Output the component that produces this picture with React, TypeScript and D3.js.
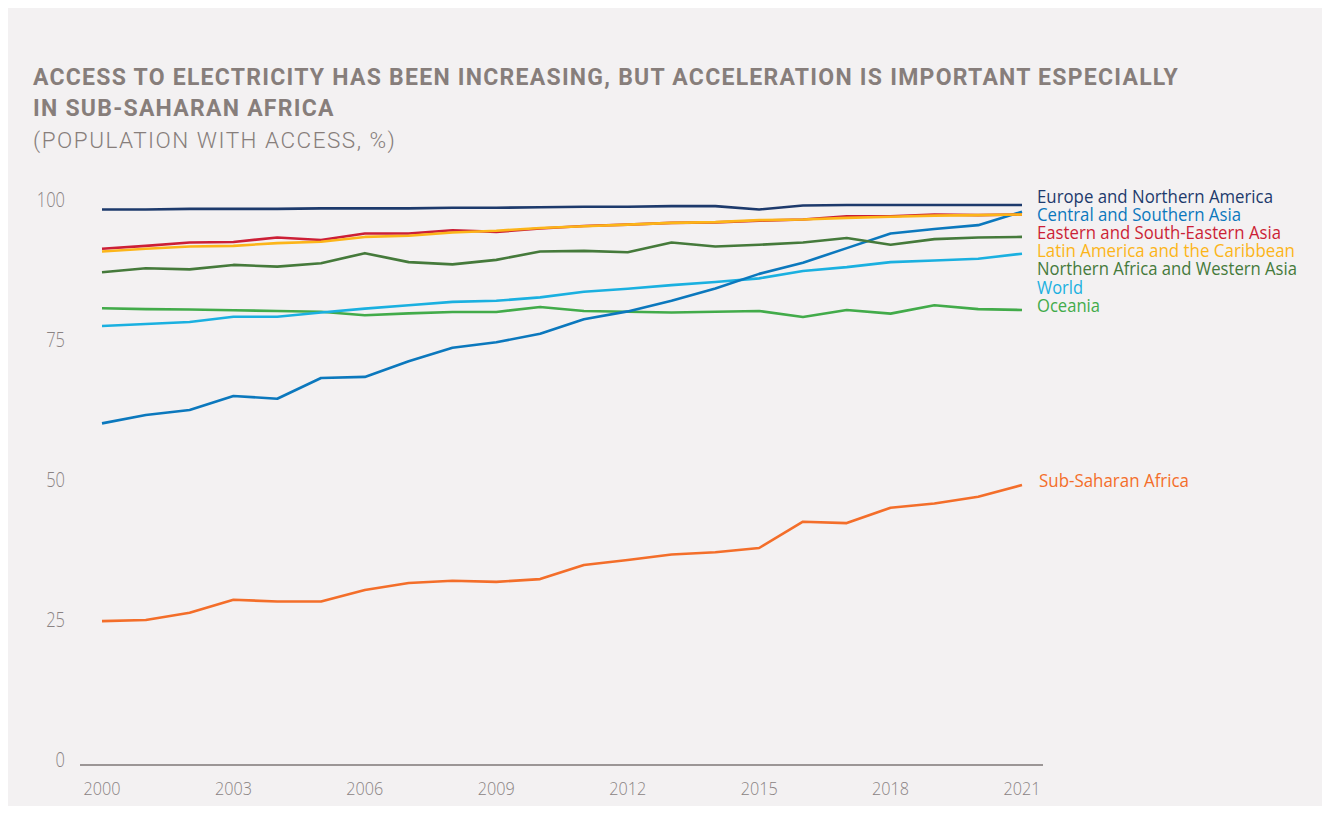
import React from "react";
import * as d3 from "d3";

const years = [2000, 2001, 2002, 2003, 2004, 2005, 2006, 2007, 2008, 2009, 2010, 2011, 2012, 2013, 2014, 2015, 2016, 2017, 2018, 2019, 2020, 2021];

const europeNA = [99.2, 99.2, 99.3, 99.3, 99.3, 99.4, 99.4, 99.4, 99.5, 99.5, 99.6, 99.7, 99.7, 99.8, 99.8, 99.2, 99.9, 100, 100, 100, 100, 100];
const centralSouthAsia = [61.0, 62.5, 63.4, 65.9, 65.4, 69.1, 69.3, 72.1, 74.5, 75.5, 77.0, 79.6, 81.0, 82.9, 85.1, 87.7, 89.7, 92.3, 94.9, 95.7, 96.4, 98.8];
const eastSEAsia = [92.2, 92.7, 93.3, 93.4, 94.2, 93.75, 94.9, 94.9, 95.5, 95.2, 95.8, 96.25, 96.5, 96.8, 96.9, 97.2, 97.4, 98.0, 98.0, 98.3, 98.2, 98.3];
const latinAmerica = [91.7, 92.2, 92.6, 92.7, 93.2, 93.45, 94.3, 94.5, 95.1, 95.4, 95.9, 96.2, 96.5, 96.8, 96.95, 97.3, 97.4, 97.7, 97.9, 98.1, 98.2, 98.3];
const northAfricaWestAsia = [88.0, 88.7, 88.5, 89.3, 89.0, 89.6, 91.4, 89.8, 89.4, 90.2, 91.7, 91.8, 91.55, 93.3, 92.6, 92.9, 93.3, 94.1, 92.9, 93.9, 94.2, 94.3];
const world = [78.4, 78.75, 79.1, 80.05, 80.05, 80.8, 81.5, 82.1, 82.7, 82.9, 83.5, 84.5, 85.05, 85.7, 86.25, 86.9, 88.2, 88.9, 89.8, 90.1, 90.4, 91.3];
const oceania = [81.55, 81.4, 81.35, 81.2, 81.07, 80.95, 80.3, 80.65, 80.9, 80.9, 81.8, 81.07, 80.95, 80.8, 80.95, 81.07, 80.0, 81.25, 80.6, 82.1, 81.4, 81.25];
const subSaharanAfrica = [25.7, 25.9, 27.2, 29.5, 29.2, 29.2, 31.25, 32.5, 32.9, 32.7, 33.2, 35.7, 36.6, 37.6, 38.0, 38.75, 43.45, 43.2, 45.95, 46.7, 47.9, 50.0];

const yTicks = [0, 25, 50, 75, 100];
const xTicks = [2000, 2003, 2006, 2009, 2012, 2015, 2018, 2021];

const titleLines = [
  "ACCESS TO ELECTRICITY HAS BEEN INCREASING, BUT ACCELERATION IS IMPORTANT ESPECIALLY",
  "IN SUB-SAHARAN AFRICA",
];
const subtitle = "(POPULATION WITH ACCESS, %)";

type Series = { name: string; values: number[]; color: string; legendWidth: number };

const legendSeries: Series[] = [
  { name: "Europe and Northern America", values: europeNA, color: "#1d3a6c", legendWidth: 236 },
  { name: "Central and Southern Asia", values: centralSouthAsia, color: "#0b78bd", legendWidth: 204 },
  { name: "Eastern and South-Eastern Asia", values: eastSEAsia, color: "#cc1f36", legendWidth: 244 },
  { name: "Latin America and the Caribbean", values: latinAmerica, color: "#fcb519", legendWidth: 258 },
  { name: "Northern Africa and Western Asia", values: northAfricaWestAsia, color: "#457a3b", legendWidth: 260 },
  { name: "World", values: world, color: "#1ab0e0", legendWidth: 46 },
  { name: "Oceania", values: oceania, color: "#42ab4a", legendWidth: 63 },
];
const ssa: Series = { name: "Sub-Saharan Africa", values: subSaharanAfrica, color: "#f36e2a", legendWidth: 150 };

// draw order (bottom to top)
const drawOrder: Series[] = [ssa, legendSeries[6], legendSeries[5], legendSeries[1], legendSeries[4], legendSeries[2], legendSeries[3], legendSeries[0]];

const W = 1330;
const H = 814;

export default function App() {
  const x = d3.scaleLinear().domain([2000, 2021]).range([102, 1022]);
  const y = d3.scaleLinear().domain([0, 100]).range([765, 205]);
  const line = d3
    .line<number>()
    .x((_, i) => x(years[i]))
    .y((d) => y(d));

  const textGray = "#877e7b";
  const axisGray = "#8a8383";
  const lightFont = "'Open Sans', sans-serif";

  return (
    <svg
      width={W}
      height={H}
      style={{ position: "absolute", left: 0, top: 0, background: "#ffffff" }}
    >
      <rect x={8} y={8} width={W - 16} height={H - 16} fill="#f3f1f2" />

      {titleLines.map((t, i) => (
        <text
          key={t}
          x={33}
          y={85 + i * 31}
          fill={textGray}
          style={{ fontFamily: "Roboto, sans-serif", fontWeight: 700, fontSize: 23, letterSpacing: 1.25 }}
        >
          {t}
        </text>
      ))}
      <text
        x={33}
        y={148}
        fill={textGray}
        style={{ fontFamily: "Roboto, sans-serif", fontWeight: 300, fontSize: 22.5, letterSpacing: 1.5 }}
      >
        {subtitle}
      </text>

      {/* y-axis labels */}
      {yTicks.map((t) => (
        <text
          key={t}
          x={65}
          y={y(t) + 2}
          textAnchor="end"
          fill={axisGray}
          textLength={String(t).length * 9.4}
          lengthAdjust="spacingAndGlyphs"
          style={{ fontFamily: lightFont, fontWeight: 300, fontSize: 21 }}
        >
          {t}
        </text>
      ))}

      {/* x axis line */}
      <line x1={80} x2={1043} y1={y(0)} y2={y(0)} stroke="#7e7777" strokeWidth={1.6} />

      {xTicks.map((t) => (
        <text
          key={t}
          x={x(t)}
          y={795}
          textAnchor="middle"
          fill={axisGray}
          textLength={37}
          lengthAdjust="spacingAndGlyphs"
          style={{ fontFamily: lightFont, fontWeight: 300, fontSize: 18 }}
        >
          {t}
        </text>
      ))}

      {drawOrder.map((s) => (
        <path
          key={s.name}
          d={line(s.values) || ""}
          fill="none"
          stroke={s.color}
          strokeWidth={2.6}
          strokeLinejoin="round"
        />
      ))}

      {legendSeries.map((s, i) => (
        <text
          key={s.name}
          x={1037}
          y={202.6 + i * 18.2}
          fill={s.color}
          textLength={s.legendWidth}
          lengthAdjust="spacingAndGlyphs"
          style={{ fontFamily: lightFont, fontWeight: 400, fontSize: 17.5 }}
        >
          {s.name}
        </text>
      ))}

      <text
        x={x(2021) + 17}
        y={y(ssa.values[ssa.values.length - 1]) + 2}
        fill={ssa.color}
        textLength={ssa.legendWidth}
        lengthAdjust="spacingAndGlyphs"
        style={{ fontFamily: lightFont, fontWeight: 400, fontSize: 17.5 }}
      >
        {ssa.name}
      </text>
    </svg>
  );
}
